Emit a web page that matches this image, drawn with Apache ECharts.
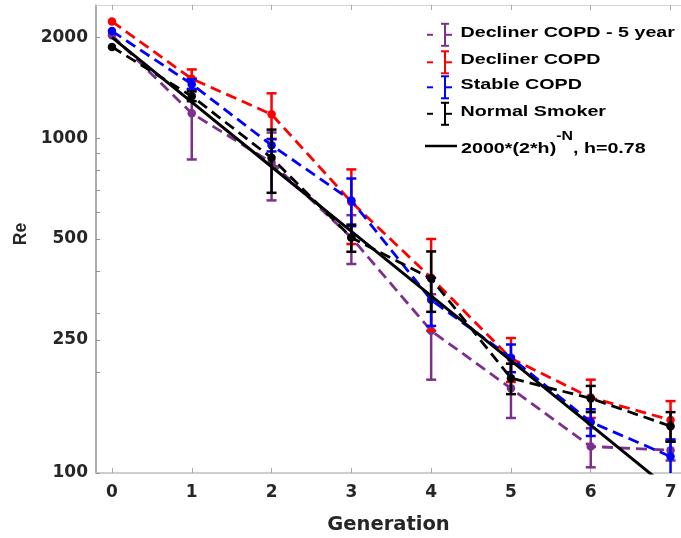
<!DOCTYPE html>
<html>
<head>
<meta charset="utf-8">
<script src="https://cdn.jsdelivr.net/npm/echarts@6/dist/echarts.min.js"></script>
<style>
  html, body { margin: 0; padding: 0; background: #fff; }
  #chart { width: 681px; height: 538px; }
</style>
</head>
<body>
<div id="chart"></div>
<script>
// Airway Reynolds number by generation, four subject groups (mean ± error) and the power-law fit
const generations = [0, 1, 2, 3, 4, 5, 6, 7];

const seriesNames = ['Decliner COPD - 5 year', 'Decliner COPD', 'Stable COPD', 'Normal Smoker'];
const seriesColors = ['#7e2f8e', '#ff0000', '#0000ff', '#000000'];

const declinerFiveYearMean = [2030, 1187, 846, 505, 266, 179, 120, 117];
const declinerFiveYearErr  = [0,    323,  194, 84,  76,  33,  16,  8];
const declinerMean         = [2233, 1505, 1179, 645, 383, 220, 168, 144];
const declinerErr          = [0,    100,  183,  162, 117, 33,  22,  20];
const stableMean           = [2089, 1450, 953, 652, 329, 221, 142, 112];
const stableErr            = [0,    50,   40,  106, 54,  21,  13,  14];
const smokerMean           = [1874, 1335, 874, 505, 381, 192, 167, 138];
const smokerErr            = [0,    45,   187, 47,  78,  20,  15,  14];

// 2000*(2*h)^-N with h = 0.78, at each generation
const fitName = '2000*(2*h)^-N, h=0.78';
const fitValues = [2000, 1282, 822, 527, 338, 216.5, 139, 89];

const xTickValues = [0, 1, 2, 3, 4, 5, 6, 7];
const yTickLabels = [100, 250, 500, 1000, 2000];
const yTickMarks  = [100, 200, 250, 300, 400, 500, 600, 700, 800, 900, 1000, 2000];

const groupMeans = [declinerFiveYearMean, declinerMean, stableMean, smokerMean];
const groupErrs  = [declinerFiveYearErr, declinerErr, stableErr, smokerErr];

const labelFont = { fontFamily: 'DejaVu Sans', fontWeight: 'bold', fontSize: 17, color: '#262626' };

function errorBarSeries(name, means, errs, color, z) {
  return {
    name: name,
    type: 'custom',
    z: z,
    clip: true,
    silent: true,
    encode: { x: 0, y: [1, 2] },
    data: generations.map((g, i) => [g, means[i] - errs[i], means[i] + errs[i], errs[i]]),
    renderItem: function (params, api) {
      if (!api.value(3)) return null;
      const x = api.value(0);
      const lo = api.coord([x, api.value(1)]);
      const hi = api.coord([x, api.value(2)]);
      const half = 5;
      const style = { stroke: color, lineWidth: 2.5, fill: null };
      return {
        type: 'group',
        children: [
          { type: 'line', shape: { x1: hi[0], y1: hi[1], x2: lo[0], y2: lo[1] }, style: style },
          { type: 'line', shape: { x1: hi[0] - half, y1: hi[1], x2: hi[0] + half, y2: hi[1] }, style: style },
          { type: 'line', shape: { x1: lo[0] - half, y1: lo[1], x2: lo[0] + half, y2: lo[1] }, style: style }
        ]
      };
    }
  };
}

function meanLineSeries(name, means, color, z) {
  return {
    name: name,
    type: 'line',
    z: z,
    clip: true,
    data: generations.map((g, i) => [g, means[i]]),
    symbol: 'circle',
    symbolSize: 8.5,
    itemStyle: { color: color },
    lineStyle: { color: color, width: 2.8, type: [11, 6] }
  };
}

const series = [];
seriesNames.forEach((name, k) => {
  series.push(meanLineSeries(name, groupMeans[k], seriesColors[k], 2 + k));
  series.push(errorBarSeries(name, groupMeans[k], groupErrs[k], seriesColors[k], 2 + k));
});
series.push({
  name: fitName,
  type: 'line',
  z: 7,
  clip: true,
  data: generations.map((g, i) => [g, fitValues[i]]),
  symbol: 'none',
  lineStyle: { color: '#000', width: 3, type: 'solid' }
});

// Legend block in the upper right: errorbar glyphs for the groups, solid stroke for the fit
const legendFont = { fontFamily: 'Liberation Sans', fontWeight: 'bold', fontSize: 15.5, fill: '#000' };
const legendGraphics = [];
const rowCenters = [32.5, 60, 85, 111.5];
seriesNames.forEach((name, k) => {
  const cy = rowCenters[k];
  const iy = cy + 2.3;
  const stroke = { stroke: seriesColors[k], lineWidth: 2 };
  legendGraphics.push(
    { type: 'line', shape: { x1: 427, y1: iy, x2: 433, y2: iy }, style: stroke },
    { type: 'line', shape: { x1: 445, y1: iy, x2: 452, y2: iy }, style: stroke },
    { type: 'line', shape: { x1: 445, y1: iy - 11, x2: 445, y2: iy + 11 }, style: stroke },
    { type: 'line', shape: { x1: 441, y1: iy - 11, x2: 449, y2: iy - 11 }, style: stroke },
    { type: 'line', shape: { x1: 441, y1: iy + 11, x2: 449, y2: iy + 11 }, style: stroke },
    {
      type: 'text', x: 460.5, y: cy, scaleX: 1.27,
      style: Object.assign({ text: name, verticalAlign: 'middle', align: 'left' }, legendFont)
    }
  );
});
legendGraphics.push(
  { type: 'line', shape: { x1: 425, y1: 146, x2: 457, y2: 146 }, style: { stroke: '#000', lineWidth: 2.5 } },
  {
    type: 'text', x: 461, y: 149, scaleX: 1.27,
    style: Object.assign({
      text: '2000*(2*h){sup|-N}, h=0.78',
      verticalAlign: 'middle', align: 'left', lineHeight: 38,
      rich: {
        sup: { fontFamily: 'Liberation Sans', fontWeight: 'bold', fontSize: 12.5, lineHeight: 13, verticalAlign: 'top', fill: '#000' }
      }
    }, legendFont)
  }
);

const chart = echarts.init(document.getElementById('chart'), null, { renderer: 'canvas' });
chart.setOption({
  animation: false,
  backgroundColor: '#fff',
  grid: { left: 96, top: 5, right: 0, bottom: 65, outerBoundsMode: 'none', containLabel: false },
  xAxis: [
    {
      type: 'value',
      min: -0.2,
      max: 7.131,
      name: 'Generation',
      nameLocation: 'middle',
      nameGap: 42,
      nameTextStyle: { fontFamily: 'DejaVu Sans', fontWeight: 'bold', fontSize: 19.5, color: '#262626' },
      axisLine: { onZero: false, lineStyle: { color: '#bdbdbd', width: 1.5 } },
      axisTick: { inside: true, length: 5, customValues: xTickValues, lineStyle: { color: '#a8a8a8', width: 1 } },
      axisLabel: Object.assign({ customValues: xTickValues, margin: 11 }, labelFont),
      splitLine: { show: false }
    },
    {
      type: 'value',
      position: 'top',
      min: -0.2,
      max: 7.131,
      axisLine: { onZero: false, lineStyle: { color: '#d4d4d4', width: 1 } },
      axisTick: { inside: true, length: 5, customValues: xTickValues, lineStyle: { color: '#a8a8a8', width: 1 } },
      axisLabel: { show: false },
      splitLine: { show: false }
    }
  ],
  yAxis: {
    type: 'log',
    logBase: 10,
    min: 100,
    max: 2500,
    name: 'Re',
    nameLocation: 'middle',
    nameGap: 66,
    nameTextStyle: { fontFamily: 'Liberation Sans', fontWeight: 'bold', fontSize: 17.5, color: '#262626', padding: [0, 0, 0, 10] },
    axisLine: { show: true, onZero: false, lineStyle: { color: '#8f8f8f', width: 1.5 } },
    axisTick: { show: true, inside: true, length: 4, customValues: yTickMarks, lineStyle: { color: '#8f8f8f', width: 1 } },
    axisLabel: Object.assign({ customValues: yTickLabels, margin: 8, formatter: (v) => String(Math.round(v)) }, labelFont),
    splitLine: { show: false },
    minorTick: { show: false }
  },
  series: series,
  graphic: legendGraphics
});
</script>
</body>
</html>
